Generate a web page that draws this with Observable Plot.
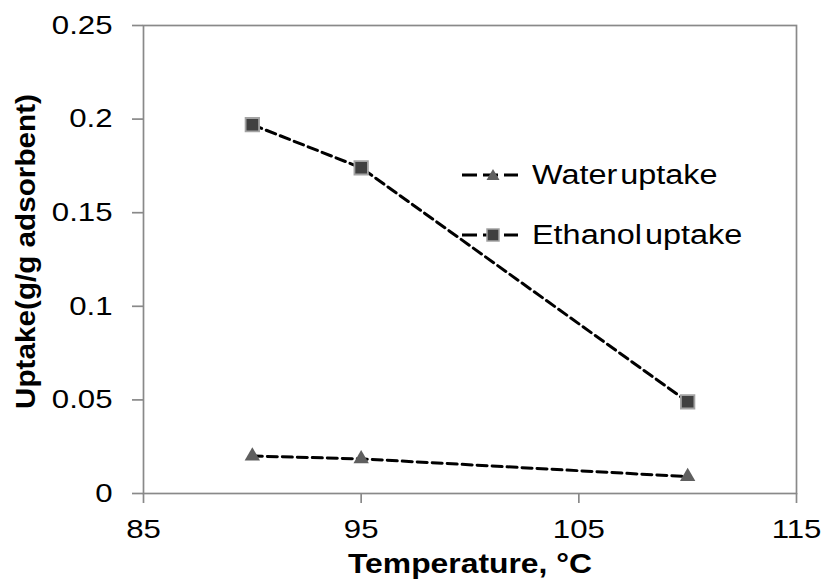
<!DOCTYPE html>
<html>
<head>
<meta charset="utf-8">
<script src="https://cdn.jsdelivr.net/npm/d3@7"></script>
<script src="https://cdn.jsdelivr.net/npm/@observablehq/plot@0.6"></script>
<style>
  html, body { margin: 0; padding: 0; background: #fff; }
  #wrap { position: relative; width: 829px; height: 584px; font-family: "Liberation Sans", Arial, sans-serif; }
  #legend { position: absolute; left: 460px; top: 0; font-size: 27px; color: #000; }
  .item { position: absolute; left: 0; height: 30px; display: flex; align-items: center; white-space: nowrap; }
  .item svg { margin-right: 12px; flex: none; }
  .item span { display: inline-block; transform: scaleX(1.2); transform-origin: left center; word-spacing: -5px; }
</style>
</head>
<body>
<div id="wrap"></div>
<script>
// Adsorption uptake versus temperature
const temperature = [90, 95, 110];
const waterUptake = [0.020, 0.0185, 0.009];
const ethanolUptake = [0.197, 0.174, 0.049];
const xTicks = [85, 95, 105, 115];
const yTicks = [0, 0.05, 0.1, 0.15, 0.2, 0.25];
const seriesNames = ["Water uptake", "Ethanol uptake"];
const xTitle = "Temperature, °C";
const yTitle = "Uptake(g/g adsorbent)";

const water = temperature.map((t, i) => ({t, v: waterUptake[i]}));
const ethanol = temperature.map((t, i) => ({t, v: ethanolUptake[i]}));

const axisGray = "#898989";
const lineStyle = {x: "t", y: "v", stroke: "#000", strokeWidth: 3, strokeDasharray: "10,5"};

const chart = Plot.plot({
  width: 829,
  height: 584,
  marginLeft: 143,
  marginRight: 33,
  marginTop: 25,
  marginBottom: 91,
  style: {fontFamily: "'Liberation Sans', Arial, sans-serif", fontSize: "26px", color: "#000", background: "#fff"},
  x: {domain: [85, 115]},
  y: {domain: [0, 0.25]},
  marks: [
    Plot.frame({stroke: axisGray, strokeWidth: 1.7}),
    Plot.axisX({ticks: xTicks, tickSize: 10, tickPadding: 16, stroke: axisGray, strokeWidth: 1.7, fontSize: 26, label: null, tickFormat: d => String(d)}),
    Plot.axisY({ticks: yTicks, tickSize: 11, tickPadding: 20, stroke: axisGray, strokeWidth: 1.7, fontSize: 26, label: null, tickFormat: d => String(d)}),
    Plot.text([xTitle], {frameAnchor: "bottom", dy: 71, textAnchor: "middle", lineAnchor: "middle", fontWeight: "bold", fontSize: 27}),
    Plot.text([yTitle], {frameAnchor: "left", rotate: -90, dx: -117, dy: -8, textAnchor: "middle", lineAnchor: "middle", fontWeight: "bold", fontSize: 28}),
    Plot.line(water, lineStyle),
    Plot.line(ethanol, lineStyle),
    Plot.dot(water, {x: "t", y: "v", symbol: "triangle", r: 5.7, fill: "#5f5f5f", stroke: "none"}),
    Plot.dot(ethanol, {x: "t", y: "v", symbol: "square", r: 7.6, fill: "#404040", stroke: "#a3a3a3", strokeWidth: 1.8})
  ]
});

// Widen glyphs about each text's own anchor point; em-based offsets stay as they are
function stretch(text, sx, sy) {
  const t = text.getAttribute("transform") || "";
  let nx = 0, ny = 0;
  const xa = text.getAttribute("x"), ya = text.getAttribute("y");
  if (xa !== null && xa !== "" && isFinite(+xa)) { nx = +xa; text.setAttribute("x", 0); }
  if (ya !== null && ya !== "" && isFinite(+ya)) { ny = +ya; text.setAttribute("y", 0); }
  text.setAttribute("transform", `${t} translate(${nx},${ny}) scale(${sx},${sy})`);
}
chart.querySelectorAll('g[aria-label="x-axis tick label"] text, g[aria-label="y-axis tick label"] text').forEach(t => stretch(t, 1.2, 1));
chart.querySelectorAll("text").forEach(t => {
  if (t.textContent === xTitle) stretch(t, 1.18, 1);
  else if (t.textContent === yTitle) stretch(t, 1.06, 1);
});

const wrap = document.getElementById("wrap");
wrap.appendChild(chart);

// Legend inside the plotting area
const legend = document.createElement("div");
legend.id = "legend";
const sampleLine = '<line x1="2" y1="15" x2="58" y2="15" stroke="#000" stroke-width="3" stroke-dasharray="15,6"/>';
const symbols = [
  '<path d="M33,9 L39.5,20 L26.5,20 Z" fill="#5f5f5f"/>',
  '<rect x="27" y="9" width="12" height="12" fill="#404040" stroke="#a3a3a3" stroke-width="1.5"/>'
];
const legendCenters = [175, 235];
seriesNames.forEach((name, i) => {
  const item = document.createElement("div");
  item.className = "item";
  item.style.top = (legendCenters[i] - 15) + "px";
  item.innerHTML = '<svg width="60" height="30">' + sampleLine + symbols[i] + '</svg><span>' + name + '</span>';
  legend.appendChild(item);
});
wrap.appendChild(legend);
</script>
</body>
</html>
